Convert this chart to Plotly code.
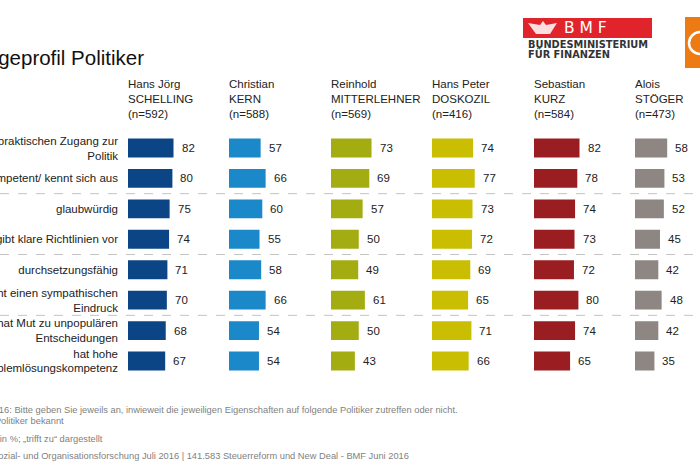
import plotly.graph_objects as go

W, H = 700, 466

# ---------------- data ----------------
rows = [
    "hat einen praktischen Zugang zur<br>Politik",
    "ist kompetent/ kennt sich aus",
    "glaubwürdig",
    "gibt klare Richtlinien vor",
    "durchsetzungsfähig",
    "macht einen sympathischen<br>Eindruck",
    "hat Mut zu unpopulären<br>Entscheidungen",
    "hat hohe<br>Problemlösungskompetenz",
]
politicians = [
    "Hans Jörg<br>SCHELLING<br>(n=592)",
    "Christian<br>KERN<br>(n=588)",
    "Reinhold<br>MITTERLEHNER<br>(n=569)",
    "Hans Peter<br>DOSKOZIL<br>(n=416)",
    "Sebastian<br>KURZ<br>(n=584)",
    "Alois<br>STÖGER<br>(n=473)",
]
schelling = [82, 80, 75, 74, 71, 70, 68, 67]
kern = [57, 66, 60, 55, 58, 66, 54, 54]
mitterlehner = [73, 69, 57, 50, 49, 61, 50, 43]
doskozil = [74, 77, 73, 72, 69, 65, 71, 66]
kurz = [82, 78, 74, 73, 72, 80, 74, 65]
stoeger = [58, 53, 52, 45, 42, 48, 42, 35]
colors = ["#0c4585", "#1b88ca", "#a3ac10", "#c9be02", "#9a1d22", "#8d8682"]

title = "Imageprofil Politiker"
footer = [
    "Frage 16: Bitte geben Sie jeweils an, inwieweit die jeweiligen Eigenschaften auf folgende Politiker zutreffen oder nicht.",
    "Basis: Politiker bekannt",
    "Angaben in %; „trifft zu“ dargestellt",
    "Quelle: Sozial- und Organisationsforschung Juli 2016 | 141.583 Steuerreform und New Deal - BMF Juni 2016",
]

# ---------------- helpers ----------------
def px(x):
    return x / W


def py(y):
    return 1 - y / H


FONT = "Liberation Sans, Arial, sans-serif"
col_left = [128, 229, 331, 432, 534, 635]
col_width = 55.5

series = [schelling, kern, mitterlehner, doskozil, kurz, stoeger]

fig = go.Figure()
annotations = []
for i, (vals, color) in enumerate(zip(series, colors)):
    xa = "x" if i == 0 else f"x{i + 1}"
    key = "xaxis" if i == 0 else f"xaxis{i + 1}"
    fig.add_trace(go.Bar(
        x=vals, y=rows, orientation="h", width=0.62,
        marker=dict(color=color, line=dict(width=0)),
        xaxis=xa, yaxis="y", showlegend=False, hoverinfo="skip",
    ))
    fig.layout[key] = dict(
        domain=[px(col_left[i]), px(col_left[i] + col_width)],
        range=[0, 100], anchor="y", visible=False, fixedrange=True,
    )
    for v, r in zip(vals, rows):
        annotations.append(dict(
            x=v, y=r, xref=xa, yref="y", text=str(v), showarrow=False,
            xanchor="left", yanchor="middle", xshift=6,
            font=dict(family=FONT, size=11.5, color="#222222"),
        ))
    annotations.append(dict(
        x=px(col_left[i]), y=py(99), xref="paper", yref="paper",
        text=politicians[i], showarrow=False, align="left",
        xanchor="left", yanchor="middle", xshift=-2,
        font=dict(family=FONT, size=11.5, color="#222222"),
    ))

# title
annotations.append(dict(
    x=px(146), y=py(57), xref="paper", yref="paper", text=title,
    showarrow=False, xanchor="right", yanchor="middle",
    font=dict(family=FONT, size=20.5, color="#111111"),
))

# footer
footer_pos = [(-30, 410), (-35, 421), (-42, 439), (-42, 456)]
for txt, (fx, fy) in zip(footer, footer_pos):
    annotations.append(dict(
        x=px(fx), y=py(fy), xref="paper", yref="paper", text=txt,
        showarrow=False, xanchor="left", yanchor="middle",
        font=dict(family=FONT, size=9.3, color="#7f7f7f"),
    ))

# BMF logo texts
annotations += [
    dict(x=px(562), y=py(28), xref="paper", yref="paper", text="B M F",
         showarrow=False, xanchor="left", yanchor="middle",
         font=dict(family="DejaVu Sans", size=15.5, color="white")),
    dict(x=px(526), y=py(45), xref="paper", yref="paper", text="<b>BUNDESMINISTERIUM</b>",
         showarrow=False, xanchor="left", yanchor="middle",
         font=dict(family="DejaVu Sans", size=9.8, color="#333333")),
    dict(x=px(526), y=py(53.5), xref="paper", yref="paper", text="<b>FÜR FINANZEN</b>",
         showarrow=False, xanchor="left", yanchor="middle",
         font=dict(family="DejaVu Sans", size=9.8, color="#333333")),
]

shapes = []
# dashed separators between row groups
for sep in [1.5, 3.5, 5.5]:
    shapes.append(dict(type="line", xref="paper", yref="y", x0=0, x1=1, y0=sep, y1=sep,
                       line=dict(color="#c4c4c4", width=1, dash="dash"), layer="below"))

# BMF red box
shapes.append(dict(type="rect", xref="paper", yref="paper",
                   x0=px(523), x1=px(652), y0=py(38), y1=py(18),
                   fillcolor="#e1242b", line=dict(width=0)))
# crest (simplified eagle)
crest = "M {0} {1} L {2} {3} L {4} {5} L {6} {7} L {8} {9} L {10} {11} L {12} {13} Z".format(
    px(528), py(23), px(540), py(25), px(543), py(21), px(546), py(25),
    px(557), py(23), px(550), py(34), px(536), py(34))
shapes.append(dict(type="path", xref="paper", yref="paper", path=crest,
                   fillcolor="rgba(255,255,255,0.85)", line=dict(width=0)))
# orange logo on the right edge
shapes.append(dict(type="rect", xref="paper", yref="paper",
                   x0=px(685), x1=px(702), y0=py(68), y1=py(17),
                   fillcolor="#ee7a14", line=dict(width=0)))
shapes.append(dict(type="circle", xref="paper", yref="paper",
                   x0=px(689), x1=px(712), y0=py(54), y1=py(32),
                   line=dict(color="white", width=2.5)))

fig.update_layout(
    width=W, height=H,
    margin=dict(l=0, r=0, t=0, b=0),
    paper_bgcolor="white", plot_bgcolor="white",
    yaxis=dict(
        domain=[py(376.2), py(132.8)], type="category",
        categoryorder="array", categoryarray=rows,
        range=[7.5, -0.5], anchor="x", showgrid=False, zeroline=False,
        showline=False, ticks="", ticklabelstandoff=9, automargin=False,
        tickfont=dict(family=FONT, size=11.5, color="#222222"), fixedrange=True,
    ),
    annotations=annotations,
    shapes=shapes,
    showlegend=False,
)

fig.write_html("out.html", config={"displayModeBar": False},
               post_script="document.body.style.margin='0';document.body.style.overflow='hidden';")
